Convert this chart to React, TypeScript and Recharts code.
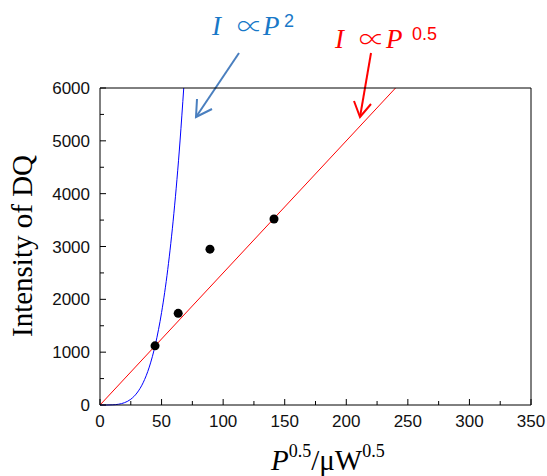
import { ComposedChart, XAxis, YAxis, Line, Scatter } from 'recharts'

// ─── data ──────────────────────────────────────────

const xMajorTicks = [0, 50, 100, 150, 200, 250, 300, 350]
const xMinorTicks = [25, 75, 125, 175, 225, 275, 325]
const yMajorTicks = [0, 1000, 2000, 3000, 4000, 5000, 6000]
const yMinorTicks = [500, 1500, 2500, 3500, 4500, 5500]

// measured DQ intensity vs P^0.5
const dotX = [44.7, 63.5, 89.3, 141.3]
const dotY = [1120, 1735, 2950, 3520]

// I ∝ P^0.5 (straight line)
const linX = [0, 240]
const linY = [0, 6000]

// I ∝ P^2 curve
const quadX = [0, 5, 10, 15, 20, 25, 30, 35, 40, 45, 50, 55, 60, 65, 68]
const quadY = [0, 0, 3, 14, 45, 109, 227, 420, 717, 1148, 1750, 2562, 3629, 4998, 6000]

const xTicks = [...xMajorTicks, ...xMinorTicks].sort((a, b) => a - b)
const yTicks = [...yMajorTicks, ...yMinorTicks].sort((a, b) => a - b)

const dots = dotX.map((x, i) => ({ x, y: dotY[i] }))
const lin = linX.map((x, i) => ({ x, y: linY[i] }))
const quad = quadX.map((x, i) => ({ x, y: quadY[i] }))

const W = 547
const H = 476
const TICK_FONT = '"Liberation Sans", Arial, sans-serif'
const SERIF = '"Liberation Serif", "Times New Roman", serif'
const SYMBOL = '"Noto Sans CJK JP", "DejaVu Sans", sans-serif'
const AXIS_LINE = { stroke: '#000', strokeWidth: 1 }

// ─── ticks (inward, with minor ticks) ──────────────

const BottomTick = (p: any) => {
  const major = xMajorTicks.includes(p.payload.value)
  return (
    <g>
      <line x1={p.x} y1={p.y} x2={p.x} y2={p.y - (major ? 6 : 4)} stroke="#000" strokeWidth={1} />
      {major && (
        <text x={p.x} y={p.y + 22} textAnchor="middle" fontFamily={TICK_FONT} fontSize={17} fill="#111">
          {p.payload.value}
        </text>
      )}
    </g>
  )
}

const LeftTick = (p: any) => {
  const major = yMajorTicks.includes(p.payload.value)
  return (
    <g>
      <line x1={p.x} y1={p.y} x2={p.x + (major ? 6 : 4)} y2={p.y} stroke="#000" strokeWidth={1} />
      {major && (
        <text x={p.x - 10} y={p.y + 6} textAnchor="end" fontFamily={TICK_FONT} fontSize={17} fill="#111">
          {p.payload.value}
        </text>
      )}
    </g>
  )
}

const TopTick = (p: any) => {
  const major = xMajorTicks.includes(p.payload.value)
  return <line x1={p.x} y1={p.y} x2={p.x} y2={p.y + (major ? 4 : 2)} stroke="#000" strokeWidth={1} />
}

const RightTick = (p: any) => {
  const major = yMajorTicks.includes(p.payload.value)
  return <line x1={p.x} y1={p.y} x2={p.x - (major ? 4 : 2)} y2={p.y} stroke="#000" strokeWidth={1} />
}

const Dot = (p: any) => <circle cx={p.cx} cy={p.cy} r={4.5} fill="#000" />

export default function App() {
  return (
    <div style={{ position: 'absolute', left: 0, top: 0, width: W, height: H }}>
      {/* axis titles and annotations */}
      <svg width={W} height={H} style={{ position: 'absolute', left: 0, top: 0 }}>
        <text
          x={32}
          y={246}
          transform="rotate(-90, 32, 246)"
          textAnchor="middle"
          fontFamily={SERIF}
          fontSize={29}
          fill="#000"
        >
          Intensity of DQ
        </text>
        <text x={271} y={470} fontFamily={SERIF} fontSize={29} fill="#000">
          <tspan fontStyle="italic">P</tspan>
          <tspan fontSize={18} dy={-13}>0.5</tspan>
          <tspan dy={13}>/μW</tspan>
          <tspan fontSize={18} dy={-13}>0.5</tspan>
        </text>

        {/* I ∝ P^2 */}
        <g fill="#1878c8">
          <text x={212} y={35} fontFamily={SERIF} fontStyle="italic" fontSize={27}>I</text>
          <text x={237} y={36} fontFamily={SYMBOL} fontWeight={300} fontSize={26}>∝</text>
          <text x={263} y={35} fontFamily={SERIF} fontStyle="italic" fontSize={27}>P</text>
          <text x={284} y={27} fontFamily={TICK_FONT} fontSize={18}>2</text>
        </g>
        <g stroke="#4a7fbf" strokeWidth={2} fill="none">
          <line x1={239} y1={53} x2={196} y2={117} />
          <polyline points="197,99 196,117 212,109" />
        </g>

        {/* I ∝ P^0.5 */}
        <g fill="#ff0000">
          <text x={335} y={48} fontFamily={SERIF} fontStyle="italic" fontSize={27}>I</text>
          <text x={359} y={49} fontFamily={SYMBOL} fontWeight={300} fontSize={26}>∝</text>
          <text x={386} y={48} fontFamily={SERIF} fontStyle="italic" fontSize={27}>P</text>
          <text x={412} y={40} fontFamily={TICK_FONT} fontSize={18}>0.5</text>
        </g>
        <g stroke="#ff0000" strokeWidth={2} fill="none">
          <line x1={371} y1={53} x2={360} y2={117} />
          <polyline points="354,101 360,117 371,104" />
        </g>
      </svg>

      <div style={{ position: 'absolute', left: 0, top: 0 }}>
        <ComposedChart width={W} height={H} margin={{ top: 87, right: 15, bottom: 0, left: 0 }}>
          <XAxis
            type="number"
            dataKey="x"
            domain={[0, 350]}
            ticks={xTicks}
            interval={0}
            height={71}
            tickSize={0}
            tickMargin={0}
            tickLine={false}
            axisLine={AXIS_LINE}
            tick={BottomTick}
          />
          <XAxis
            xAxisId="top"
            orientation="top"
            type="number"
            dataKey="x"
            domain={[0, 350]}
            ticks={xTicks}
            interval={0}
            height={1}
            tickSize={0}
            tickMargin={0}
            tickLine={false}
            axisLine={AXIS_LINE}
            tick={TopTick}
          />
          <YAxis
            type="number"
            domain={[0, 6000]}
            ticks={yTicks}
            interval={0}
            width={100}
            tickSize={0}
            tickMargin={0}
            tickLine={false}
            axisLine={AXIS_LINE}
            tick={LeftTick}
          />
          <YAxis
            yAxisId="right"
            orientation="right"
            type="number"
            domain={[0, 6000]}
            ticks={yTicks}
            interval={0}
            width={1}
            tickSize={0}
            tickMargin={0}
            tickLine={false}
            axisLine={AXIS_LINE}
            tick={RightTick}
          />
          <Line data={quad} dataKey="y" type="monotone" stroke="#0000ff" strokeWidth={1} dot={false} isAnimationActive={false} />
          <Line data={lin} dataKey="y" type="linear" stroke="#ff0000" strokeWidth={1} dot={false} isAnimationActive={false} />
          <Scatter data={dots} dataKey="y" fill="#000" shape={Dot} isAnimationActive={false} />
        </ComposedChart>
      </div>
    </div>
  )
}
